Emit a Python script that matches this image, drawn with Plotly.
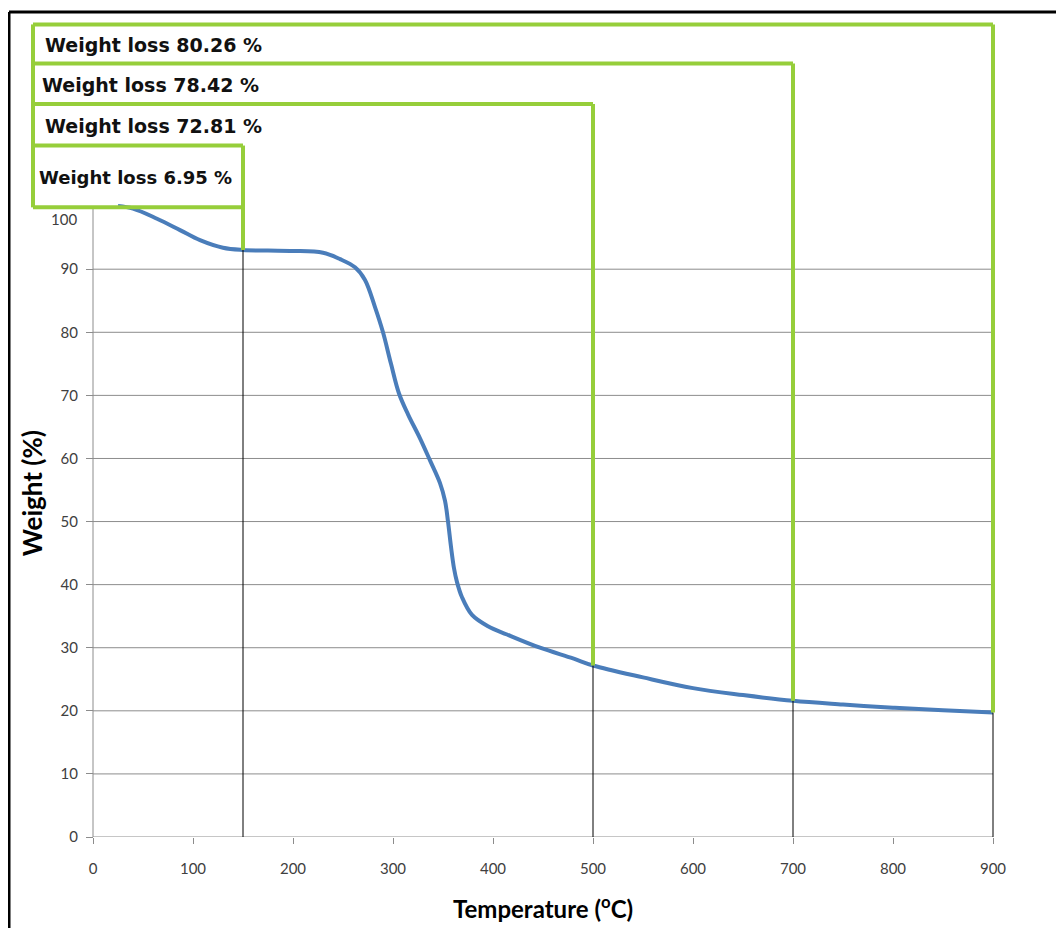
import plotly.graph_objects as go

# ---- data ----
temperature = [25, 40, 64, 87, 107, 130, 150, 175, 200, 230, 247, 262, 272, 282, 290, 298,
               306, 315, 327, 337, 347, 352, 355, 358, 361, 364, 369, 379, 395, 414, 447,
               480, 500, 550, 600, 650, 700, 750, 800, 850, 900]
weight = [100.0, 99.6, 98.0, 96.2, 94.6, 93.4, 93.05, 92.95, 92.9, 92.6, 91.6, 90.3, 88.3, 84.0,
          80.0, 75.0, 70.3, 67.0, 63.2, 59.7, 56.1, 53.3, 50.0, 46.0, 42.6, 40.4, 38.0, 35.2,
          33.4, 32.1, 30.0, 28.3, 27.19, 25.3, 23.6, 22.5, 21.58, 21.0, 20.5, 20.1, 19.74]

mark_temps = [150, 500, 700, 900]
weight_loss = [6.95, 72.81, 78.42, 80.26]
loss_labels = ["Weight loss 6.95 %", "Weight loss 72.81 %", "Weight loss 78.42 %", "Weight loss 80.26 %"]

x_ticks = list(range(0, 1000, 100))
y_ticks = list(range(0, 100, 10))

# ---- style ----
BLUE = "#4A7DBA"
GREEN = "#96CE3A"
GRID = "#8C8C8C"
TICKC = "#404040"
FONT = "Lato"
LABEL_FONT = "DejaVu Sans"

# layout geometry (axis units)
X_MIN, X_MAX = -65, 905
Y_MAX = 129.5
BOX_LEFT = -60
box_tops = [109.6, 116.2, 122.6, 128.8]   # one per label, same order as mark_temps
box4_bottom = 99.8
label_y = [104.6, 112.7, 119.2, 125.5]
label_x = [-56, -50, -53, -50]
label_size = [18, 19, 19, 19]

fig = go.Figure()

shapes = []
# horizontal gridlines (Excel style, only inside 0..900)
for v in y_ticks[1:]:
    shapes.append(dict(type="line", xref="x", yref="y", x0=0, x1=900, y0=v, y1=v,
                       line=dict(color=GRID, width=1), layer="below"))
# axis lines
shapes.append(dict(type="line", xref="x", yref="y", x0=0, x1=900, y0=0, y1=0,
                   line=dict(color=GRID, width=1), layer="below"))
shapes.append(dict(type="line", xref="x", yref="y", x0=0, x1=0, y0=0, y1=100,
                   line=dict(color=GRID, width=1), layer="below"))

# black drop lines and green box lines
for t, loss, top in zip(mark_temps, weight_loss, box_tops):
    resid = 100 - loss
    shapes.append(dict(type="line", xref="x", yref="y", x0=t, x1=t, y0=0, y1=resid,
                       line=dict(color="black", width=1)))
    shapes.append(dict(type="line", xref="x", yref="y", x0=t, x1=t, y0=resid, y1=top,
                       line=dict(color=GREEN, width=4)))
    shapes.append(dict(type="line", xref="x", yref="y", x0=BOX_LEFT, x1=t, y0=top, y1=top,
                       line=dict(color=GREEN, width=4)))
# bottom of the smallest box and the common left edge
shapes.append(dict(type="line", xref="x", yref="y", x0=BOX_LEFT, x1=mark_temps[0],
                   y0=box4_bottom, y1=box4_bottom, line=dict(color=GREEN, width=4)))
shapes.append(dict(type="line", xref="x", yref="y", x0=BOX_LEFT, x1=BOX_LEFT,
                   y0=box4_bottom, y1=box_tops[-1], line=dict(color=GREEN, width=4)))

# figure geometry (page body has an 8px margin)
W, H = 1056, 920
ML, MR, MT, MB = 20, 66, 12, 91
pw, ph = W - ML - MR, H - MT - MB
def px_to_paper_x(px):
    return (px - ML) / pw
def px_to_paper_y(py):
    return (H - MB - py) / ph
# outer black frame (top and left edges visible)
shapes.append(dict(type="line", xref="paper", yref="paper",
                   x0=px_to_paper_x(1), x1=px_to_paper_x(1070), y0=px_to_paper_y(4), y1=px_to_paper_y(4),
                   line=dict(color="black", width=3)))
shapes.append(dict(type="line", xref="paper", yref="paper",
                   x0=px_to_paper_x(1), x1=px_to_paper_x(1), y0=px_to_paper_y(4), y1=px_to_paper_y(935),
                   line=dict(color="black", width=3)))

fig.add_trace(go.Scatter(x=temperature, y=weight, mode="lines",
                         line=dict(color=BLUE, width=4, shape="spline", smoothing=1.0),
                         showlegend=False, hoverinfo="x+y"))

annotations = []
for lx, ly, txt, sz in zip(label_x, label_y, loss_labels, label_size):
    annotations.append(dict(x=lx, y=ly, xref="x", yref="y", text="<b>" + txt + "</b>",
                            showarrow=False, xanchor="left", yanchor="middle",
                            font=dict(family=LABEL_FONT, size=sz, color="#111111")))
# "100" tick label, nudged below the box as in the original
annotations.append(dict(x=0, y=100, xref="x", yref="y", text="100", showarrow=False,
                        xanchor="right", yanchor="middle", xshift=-14, yshift=-13,
                        font=dict(family=FONT, size=15, color=TICKC)))
annotations.append(dict(x=450, y=0, xref="x", yref="y",
                        text="<b>Temperature (<sup>o</sup>C)</b>",
                        showarrow=False, xanchor="center", yanchor="middle", yshift=-70,
                        font=dict(family=FONT, size=24, color="black")))
annotations.append(dict(x=-61, y=54.5, xref="x", yref="y", text="<b>Weight (%)</b>",
                        showarrow=False, textangle=-90, xanchor="center", yanchor="middle",
                        font=dict(family=FONT, size=26, color="black")))

fig.update_layout(
    width=W, height=H,
    margin=dict(l=ML, r=MR, t=MT, b=MB),
    paper_bgcolor="white", plot_bgcolor="white",
    shapes=shapes, annotations=annotations,
    xaxis=dict(range=[X_MIN, X_MAX], tickvals=x_ticks, ticktext=[str(v) for v in x_ticks],
               showgrid=False, zeroline=False, showline=False,
               ticks="outside", ticklen=6, tickcolor=GRID, ticklabelstandoff=12,
               tickfont=dict(family=FONT, size=15, color=TICKC)),
    yaxis=dict(range=[0, Y_MAX], tickvals=y_ticks,
               ticktext=[str(v) for v in y_ticks],
               anchor="free", position=(0 - X_MIN) / (X_MAX - X_MIN),
               showgrid=False, zeroline=False, showline=False,
               ticks="outside", ticklen=7, tickcolor=GRID, ticklabelstandoff=5,
               tickfont=dict(family=FONT, size=15, color=TICKC)),
)

fig.write_html("out.html")
